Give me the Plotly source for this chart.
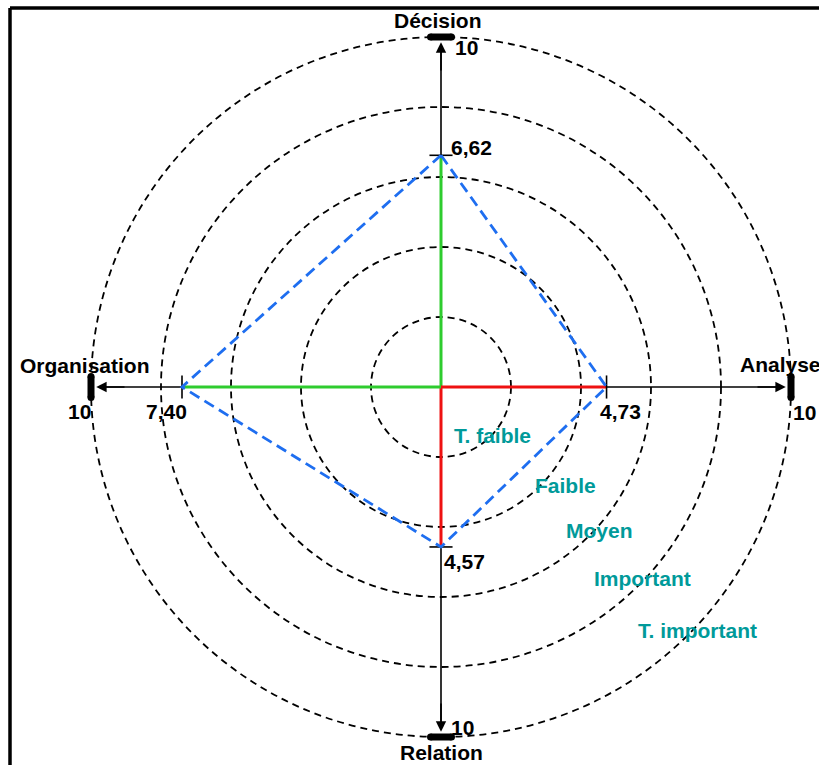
# Radar-style profile chart: Décision / Analyse / Relation / Organisation #
import plotly.graph_objects as go

# Chart data #
axis_names = ["Décision", "Analyse", "Relation", "Organisation"]
axis_values = [6.62, 4.73, 4.57, 7.40]
axis_max = 10
value_labels = ["6,62", "4,73", "4,57", "7,40"]
ring_radii = [2, 4, 6, 8, 10]
level_labels = ["T. faible", "Faible", "Moyen", "Important", "T. important"]

# Unit direction for each axis (top, right, bottom, left) #
directions = [(0, 1), (1, 0), (0, -1), (-1, 0)]
# lines from center: green for Décision/Organisation, red for Analyse/Relation #
segment_colors = ["#2ECC2E", "#EE1111", "#EE1111", "#2ECC2E"]

# Figure constants (35 px per unit, centre at 441, 387) #
W, H = 819, 765
SCALE = 35.0
CX, CY = 441, 387
x_range = [-CX / SCALE, (W - CX) / SCALE]
y_range = [-(H - CY) / SCALE, CY / SCALE]

fig = go.Figure()

# Concentric dashed rings #
for r in ring_radii:
    fig.add_shape(type="circle", xref="x", yref="y",
                  x0=-r, x1=r, y0=-r, y1=r,
                  line=dict(color="black", width=1.8, dash="7px,5px"), layer="below")

# Black axis lines (centre -> 10) #
for dx, dy in directions:
    fig.add_trace(go.Scatter(x=[0, dx * axis_max * 0.97], y=[0, dy * axis_max * 0.97],
                             mode="lines", line=dict(color="black", width=1.6),
                             hoverinfo="skip", showlegend=False))

# Coloured segments from centre to each value #
for (dx, dy), v, col in zip(directions, axis_values, segment_colors):
    fig.add_trace(go.Scatter(x=[0, dx * v], y=[0, dy * v], mode="lines",
                             line=dict(color=col, width=3),
                             hoverinfo="skip", showlegend=False))

# Arrow heads at the axis ends #
for dx, dy in directions:
    fig.add_annotation(x=dx * axis_max * 0.985, y=dy * axis_max * 0.985,
                       ax=dx * axis_max * 0.9, ay=dy * axis_max * 0.9,
                       xref="x", yref="y", axref="x", ayref="y",
                       text="", showarrow=True, arrowhead=2, arrowsize=1.3,
                       arrowwidth=1.6, arrowcolor="black")

# Tick marks at each value and thick caps at 10 #
for (dx, dy), v in zip(directions, axis_values):
    px_, py_ = -dy, dx
    half = 0.33
    fig.add_trace(go.Scatter(x=[dx * v - px_ * half, dx * v + px_ * half],
                             y=[dy * v - py_ * half, dy * v + py_ * half],
                             mode="lines", line=dict(color="black", width=1.6),
                             hoverinfo="skip", showlegend=False))
    cap = 0.3
    fig.add_trace(go.Scatter(x=[dx * axis_max - px_ * cap, dx * axis_max + px_ * cap],
                             y=[dy * axis_max - py_ * cap, dy * axis_max + py_ * cap],
                             mode="lines+markers", line=dict(color="black", width=7),
                             marker=dict(color="black", size=7),
                             hoverinfo="skip", showlegend=False))

# Blue dashed polygon through the values #
poly_x = [dx * v for (dx, dy), v in zip(directions, axis_values)]
poly_y = [dy * v for (dx, dy), v in zip(directions, axis_values)]
fig.add_trace(go.Scatter(x=poly_x + poly_x[:1], y=poly_y + poly_y[:1], mode="lines",
                         line=dict(color="#1E6EF0", width=2.8, dash="11px,6px"),
                         hoverinfo="skip", showlegend=False))

# Text helpers (pixel -> data) #
def to_x(px):
    return (px - CX) / SCALE

def to_y(py):
    return (CY - py) / SCALE

bold = dict(family="Liberation Sans, Arial", size=21, color="black")

# Axis names #
name_pos = [(438, 20), (780, 364), (441, 752), (85, 365)]
for name, (px, py) in zip(axis_names, name_pos):
    fig.add_annotation(x=to_x(px), y=to_y(py), text="<b>%s</b>" % name,
                       showarrow=False, font=bold, xanchor="center", yanchor="middle")

# "10" labels at axis ends #
ten_pos = [(466, 47), (804, 412), (462, 727), (79, 411)]
for px, py in ten_pos:
    fig.add_annotation(x=to_x(px), y=to_y(py), text="<b>%d</b>" % axis_max,
                       showarrow=False, font=bold, xanchor="center", yanchor="middle")

# Value labels #
value_pos = [(471, 147), (620, 411), (464, 561), (166, 411)]
for lab, (px, py) in zip(value_labels, value_pos):
    fig.add_annotation(x=to_x(px), y=to_y(py), text="<b>%s</b>" % lab,
                       showarrow=False, font=bold, xanchor="center", yanchor="middle")

# Level labels along the diagonal #
level_pos = [(492, 435), (565, 485), (599, 530), (642, 578), (697, 630)]
for lab, (px, py) in zip(level_labels, level_pos):
    fig.add_annotation(x=to_x(px), y=to_y(py), text="<b>%s</b>" % lab,
                       showarrow=False, xanchor="center", yanchor="middle",
                       font=dict(family="Liberation Sans, Arial", size=21, color="#009A9A"))

# Frame (left and top borders) #
fig.add_shape(type="line", xref="paper", yref="paper",
              x0=10 / W, x1=10 / W, y0=0, y1=1 - 8 / H,
              line=dict(color="black", width=3.5))
fig.add_shape(type="line", xref="paper", yref="paper",
              x0=10 / W, x1=1, y0=1 - 8 / H, y1=1 - 8 / H,
              line=dict(color="black", width=3.5))

# Figure Layout #
fig.update_layout(width=W, height=H,
                  margin=dict(l=0, r=0, t=0, b=0),
                  paper_bgcolor="white", plot_bgcolor="white",
                  showlegend=False)

fig.update_xaxes(range=x_range, visible=False, fixedrange=True)
fig.update_yaxes(range=y_range, visible=False, fixedrange=True)

# remove default page margin so the figure sits at (0, 0) #
fig.write_html("out.html", config={"displayModeBar": False},
               post_script="document.body.style.margin='0px';")
